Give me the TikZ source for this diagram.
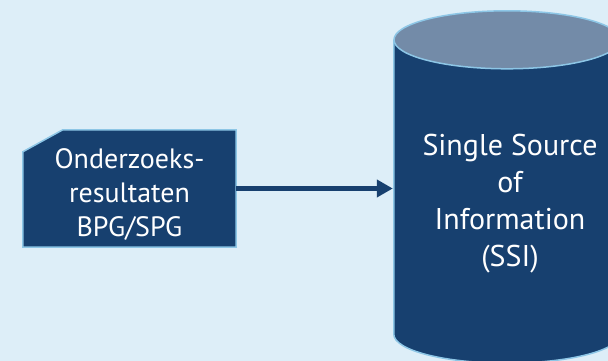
\documentclass[tikz,border=0pt]{standalone}
\usepackage{fontspec}
\setmainfont{PT Sans}
\usetikzlibrary{arrows.meta,positioning}
\definecolor{bgblue}{HTML}{DDEEF8}
\definecolor{darkblue}{HTML}{17406F}
\definecolor{topblue}{HTML}{738BA8}
\definecolor{rimblue}{HTML}{8DC6E6}
\tikzset{
  rim/.style={draw=rimblue,line width=1.5pt},
  lbl/.style={text=white,align=center,font=\fontsize{28}{34}\selectfont},
  resbox/.style={minimum width=213pt,minimum height=117pt,inner sep=0pt},
  arr/.style={draw=darkblue,line width=5pt,-{Triangle[length=16pt,width=17pt]}}
}

\begin{document}
\begin{tikzpicture}[x=1pt,y=1pt]
\fill[bgblue] (0,0) rectangle (608,361);
\useasboundingbox (0,0) rectangle (608,361);

%Onderzoeksresultaten
\node[resbox] (res) at (129.5,172.5) {};
\draw[rim,fill=darkblue] (res.south west) -- ([yshift=-22pt]res.north west)
  -- ([xshift=40pt]res.north west) -- (res.north east) -- (res.south east) -- cycle;
\node[lbl] (restxt) at ([yshift=-6pt]res.center) {Onderzoeks-\\resultaten\\BPG/SPG};

%SSI database
\node[minimum width=226pt,minimum height=294pt,inner sep=0pt] (db) at (507,174) {};
\fill[darkblue] (db.north west) -- (db.south west)
  arc[start angle=180,end angle=360,x radius=113,y radius=29] -- (db.north east) -- cycle;
\draw[rim] (db.north west) -- (db.south west)
  arc[start angle=180,end angle=360,x radius=113,y radius=29] -- (db.north east);
\draw[rim,fill=topblue] (db.north) ellipse [x radius=113,y radius=29];
\node[lbl,font=\fontsize{30}{37}\selectfont] (ssi) at (510,157) {Single Source\\of\\Information\\(SSI)};

\draw[arr] (res.east) -- ([xshift=-1pt]res.east -| db.west);

\end{tikzpicture}
\end{document}
